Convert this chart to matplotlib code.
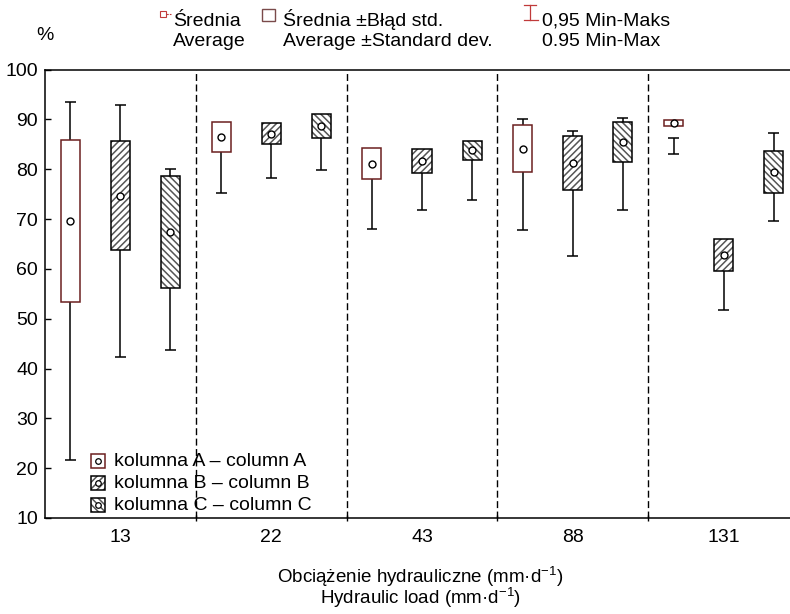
import numpy as np
import matplotlib.pyplot as plt
from matplotlib.patches import Rectangle
from matplotlib.lines import Line2D

# ----------------------------- DATA
loads = ['13', '22', '43', '88', '131']

mean_A = [69.6, 86.5, 81.1, 84.1, 89.3]
sd_A = [16.25, 3.05, 3.05, 4.75, 0.6]
min_A = [21.6, 75.3, 68.0, 67.8, 83.0]
max_A = [93.5, 89.0, 83.5, 90.1, 86.3]

mean_B = [74.7, 87.1, 81.6, 81.3, 62.7]
sd_B = [11.0, 2.15, 2.35, 5.4, 3.2]
min_B = [42.3, 78.3, 71.8, 62.6, 51.7]
max_B = [92.9, 88.5, 83.5, 87.7, 65.0]

mean_C = [67.4, 88.7, 83.8, 85.5, 79.4]
sd_C = [11.15, 2.45, 1.9, 4.0, 4.15]
min_C = [43.8, 79.9, 73.9, 71.8, 69.6]
max_C = [80.1, 90.5, 85.5, 90.3, 87.3]

series_labels = ['kolumna A \u2013 column A', 'kolumna B \u2013 column B', 'kolumna C \u2013 column C']

# ----------------------------- STYLE
plt.rcParams['font.family'] = ['Liberation Sans', 'DejaVu Sans']
plt.rcParams['font.size'] = 14
plt.rcParams['mathtext.fontset'] = 'custom'
plt.rcParams['mathtext.rm'] = 'Liberation Sans'
plt.rcParams['mathtext.it'] = 'Liberation Sans'
plt.rcParams['hatch.linewidth'] = 1.1

W, H = 790, 614
maroon = '#6b1f1f'
red = '#c03a3a'
hatch_col = '#555555'

fig = plt.figure(figsize=(W / 100, H / 100), dpi=100)
ax = fig.add_axes([45 / W, (H - 518) / H, 754 / W, (518 - 69.5) / H])


def fx(x):
    return x / W


def fy(y):
    return 1 - y / H


# ----------------------------- BOXES
x = np.arange(len(loads))
off = 0.332
bw = 0.126
cap = 0.036
groups = [
    (mean_A, sd_A, min_A, max_A, -off, maroon, None),
    (mean_B, sd_B, min_B, max_B, 0.0, 'black', '/////'),
    (mean_C, sd_C, min_C, max_C, off, 'black', '\\\\\\\\\\'),
]
for mean, sd, lo, hi, dx, ec, hatch in groups:
    mean = np.array(mean)
    sd = np.array(sd)
    xp = x + dx
    ax.vlines(xp, lo, hi, color='black', lw=1.1, zorder=2)
    ax.hlines(lo, xp - cap, xp + cap, color='black', lw=1.1, zorder=2)
    ax.hlines(hi, xp - cap, xp + cap, color='black', lw=1.1, zorder=2)
    ax.bar(xp, 2 * sd, bottom=mean - sd, width=bw, facecolor='white',
           edgecolor=hatch_col, hatch=hatch, lw=0, zorder=3)
    ax.bar(xp, 2 * sd, bottom=mean - sd, width=bw, fill=False,
           edgecolor=ec, lw=1.1, zorder=3.5)
    ax.plot(xp, mean, 'o', ms=5, mfc='white', mec='black', mew=1.0, zorder=4)

# separators
for b in x[:-1] + 0.5:
    ax.axvline(b, color='black', lw=1.0, ls=(0, (5, 2.5)), zorder=1)

ax.set_xlim(-0.5, 4.5)
ax.set_ylim(10, 100)
ax.set_yticks(np.arange(10, 101, 10))
ax.set_xticks(x)
ax.set_xticklabels(loads)
ax.set_xticks(x[:-1] + 0.5, minor=True)
ax.tick_params(axis='x', which='major', length=0, pad=8)
ax.tick_params(axis='x', which='minor', direction='inout', length=5, width=1)
ax.tick_params(axis='y', direction='in', length=4, width=1, pad=5)
for s in ax.spines.values():
    s.set_linewidth(1.1)
ax.spines['right'].set_visible(False)

# ----------------------------- LABELS
fig.text(fx(45), fy(40), '%', ha='center', va='baseline')
fig.text(fx(420), fy(565),
         'Obci\u0105\u017cenie hydrauliczne (mm\u00b7d$^{-1}$)\nHydraulic load (mm\u00b7d$^{-1}$)',
         ha='center', va='top', multialignment='center', linespacing=0.85, fontsize=13.5)

# ----------------------------- TOP LEGEND
fig.add_artist(Rectangle((fx(160), fy(17)), 6 / W, 6 / H, transform=fig.transFigure,
                         fill=False, edgecolor=red, lw=0.8))
fig.add_artist(Line2D([fx(166), fx(171)], [fy(14), fy(14)], transform=fig.transFigure,
                      color=red, lw=0.8, ls=(0, (2, 1))))
fig.text(fx(173), fy(26), '\u015arednia', va='baseline')
fig.text(fx(173), fy(46), 'Average', va='baseline')

fig.add_artist(Rectangle((fx(262), fy(21)), 13 / W, 12 / H, transform=fig.transFigure,
                         fill=False, edgecolor='#7a4a4a', lw=1.0))
fig.text(fx(283), fy(26), '\u015arednia \u00b1B\u0142\u0105d std.', va='baseline')
fig.text(fx(283), fy(46), 'Average \u00b1Standard dev.', va='baseline')

fig.add_artist(Line2D([fx(530), fx(530)], [fy(5), fy(20)], transform=fig.transFigure, color=red, lw=0.9))
fig.add_artist(Line2D([fx(524), fx(536)], [fy(5), fy(5)], transform=fig.transFigure, color=red, lw=0.9))
fig.add_artist(Line2D([fx(524), fx(538)], [fy(20), fy(20)], transform=fig.transFigure, color=red, lw=0.9))
fig.text(fx(542), fy(26), '0,95 Min-Maks', va='baseline')
fig.text(fx(542), fy(46), '0.95 Min-Max', va='baseline')

# ----------------------------- BOTTOM LEGEND
rows = [466.5, 488.5, 510.5]
for (mean, sd, lo, hi, dx, ec, hatch), lab, yb in zip(groups, series_labels, rows):
    fig.add_artist(Rectangle((fx(91), fy(yb + 1)), 14 / W, 14 / H, transform=fig.transFigure,
                             facecolor='white', edgecolor=hatch_col, hatch=hatch, lw=0))
    fig.add_artist(Rectangle((fx(91), fy(yb + 1)), 14 / W, 14 / H, transform=fig.transFigure,
                             fill=False, edgecolor=ec, lw=1.1))
    fig.add_artist(Line2D([fx(98)], [fy(yb - 6)], transform=fig.transFigure, marker='o', ms=4,
                          mfc='white', mec='black', mew=0.9))
    fig.text(fx(114), fy(yb), lab, va='baseline')

fig.savefig('out.png', dpi=100)
